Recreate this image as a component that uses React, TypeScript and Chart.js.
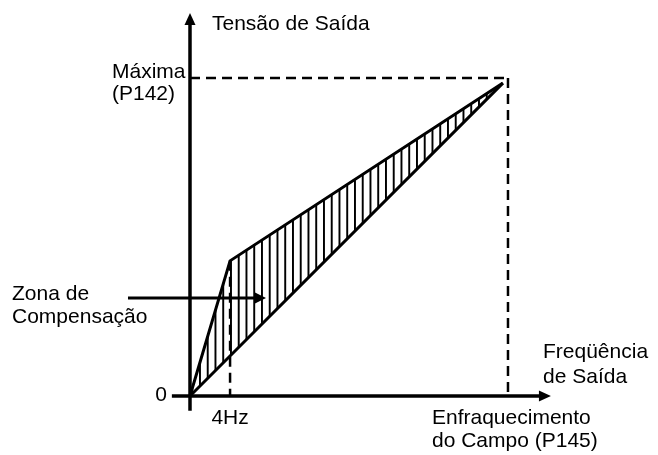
import React, { useEffect, useRef } from "react";
import { Chart, registerables } from "chart.js";

Chart.register(...registerables);

// ---- data (chart units: frequency 0..100 = field weakening, voltage 0..100 = maximum) ----
const fourHz = 12.6;
const boostVoltage = 42.5;
const curveEnd = 98.4;
const fieldWeakening = 100;
const maxVoltage = 100;

const upperCurveX = [0, fourHz, curveEnd];
const upperCurveY = [0, boostVoltage, curveEnd];
const lowerCurveX = [0, curveEnd];
const lowerCurveY = [0, curveEnd];

// axis extents
const xAxisStart = -5.7;
const xAxisTip = 113.5;
const yAxisStart = -4.6;
const yAxisTip = 120.4;

// compensation zone arrow
const zoneArrowY = 30.8;
const zoneArrowStart = -19.5;
const zoneArrowTip = 23.9;

// texts
const yTitleLines = ["Tensão de Saída"];
const maxLabelLines = ["Máxima", "(P142)"];
const zoneLabelLines = ["Zona de", "Compensação"];
const xTitleLines = ["Freqüência", "de Saída"];
const fieldLabelLines = ["Enfraquecimento", "do Campo (P145)"];
const originLabel = "0";
const fourHzLabel = "4Hz";

const FONT = '21px "Liberation Sans", Arial, Helvetica, sans-serif';

function pts(xs: number[], ys: number[]) {
  return xs.map((x, i) => ({ x, y: ys[i] }));
}

function makeHatch(): CanvasPattern | string {
  const c = document.createElement("canvas");
  c.width = 8;
  c.height = 8;
  const g = c.getContext("2d")!;
  g.fillStyle = "#000";
  g.fillRect(0, 0, 2, 8);
  const p = g.createPattern(c, "repeat");
  if (!p) return "rgba(0,0,0,0.2)";
  try {
    p.setTransform(new DOMMatrix([0.96875, 0, 0, 1, 5.2, 0]));
  } catch (e) {}
  return p;
}

function arrow(ctx: CanvasRenderingContext2D, tx: number, ty: number, dx: number, dy: number, len: number, half: number) {
  const bx = tx - dx * len;
  const by = ty - dy * len;
  const px = -dy;
  const py = dx;
  ctx.beginPath();
  ctx.moveTo(tx, ty);
  ctx.lineTo(bx + px * half, by + py * half);
  ctx.lineTo(bx - px * half, by - py * half);
  ctx.closePath();
  ctx.fill();
}

const annotations = {
  id: "annotations",
  afterDraw(chart: any) {
    const ctx: CanvasRenderingContext2D = chart.ctx;
    const xs = chart.scales.x;
    const ys = chart.scales.y;
    ctx.save();
    ctx.fillStyle = "#000";
    const ox = xs.getPixelForValue(0);
    const oy = ys.getPixelForValue(0);
    arrow(ctx, xs.getPixelForValue(xAxisTip), oy, 1, 0, 12, 5.5);
    arrow(ctx, ox, ys.getPixelForValue(yAxisTip), 0, -1, 12, 5.5);
    arrow(ctx, xs.getPixelForValue(zoneArrowTip), ys.getPixelForValue(zoneArrowY), 1, 0, 11, 5.5);

    ctx.font = FONT;
    ctx.textBaseline = "alphabetic";
    ctx.textAlign = "left";
    const lines = (arr: string[], x: number, y: number, lh: number) =>
      arr.forEach((t, i) => ctx.fillText(t, x, y + i * lh));
    lines(yTitleLines, 212, 30, 22);
    lines(maxLabelLines, 112, 78, 22);
    lines(zoneLabelLines, 12, 300, 23);
    lines(xTitleLines, 543, 358, 25);
    lines(fieldLabelLines, 432, 424, 23);
    ctx.textAlign = "right";
    ctx.fillText(originLabel, 167, 401);
    ctx.textAlign = "center";
    ctx.fillText(fourHzLabel, xs.getPixelForValue(fourHz), 424);
    ctx.restore();
  },
};

export default function App() {
  const ref = useRef<HTMLCanvasElement>(null);
  useEffect(() => {
    if (!ref.current) return;
    const black = "#000";
    const line = (data: any, extra: any = {}) => ({
      data,
      borderColor: black,
      backgroundColor: black,
      pointRadius: 0,
      tension: 0,
      fill: false,
      showLine: true,
      ...extra,
    });
    const chart = new Chart(ref.current, {
      type: "scatter",
      data: {
        datasets: [
          line(pts(upperCurveX, upperCurveY), {
            borderWidth: 3,
            fill: 1,
            backgroundColor: makeHatch(),
          }),
          line(pts(lowerCurveX, lowerCurveY), { borderWidth: 3 }),
          line(pts([0, fieldWeakening], [maxVoltage, maxVoltage]), { borderWidth: 2.5, borderDash: [10, 6] }),
          line(pts([fieldWeakening, fieldWeakening], [maxVoltage, 0]), { borderWidth: 2.5, borderDash: [10, 6] }),
          line(pts([fourHz, fourHz], [boostVoltage, 0]), { borderWidth: 2.5, borderDash: [10, 6] }),
          line(pts([xAxisStart, xAxisTip - 3], [0, 0]), { borderWidth: 3.5 }),
          line(pts([0, 0], [yAxisStart, yAxisTip - 3]), { borderWidth: 3.5 }),
          line(pts([zoneArrowStart, zoneArrowTip - 2], [zoneArrowY, zoneArrowY]), { borderWidth: 3 }),
        ],
      },
      options: {
        responsive: false,
        animation: false,
        layout: { padding: { left: 126.4, right: 105.5, top: 11.2, bottom: 43.1 } },
        scales: {
          x: { type: "linear", min: -20, max: 114, display: false },
          y: { type: "linear", min: -5, max: 121, display: false },
        },
        plugins: {
          legend: { display: false },
          tooltip: { enabled: false },
        },
      },
      plugins: [annotations],
    });
    return () => chart.destroy();
  }, []);
  return (
    <div style={{ position: "absolute", left: 0, top: 0, width: 658, height: 455, background: "#fff" }}>
      <canvas ref={ref} width={658} height={455} style={{ display: "block" }} />
    </div>
  );
}
